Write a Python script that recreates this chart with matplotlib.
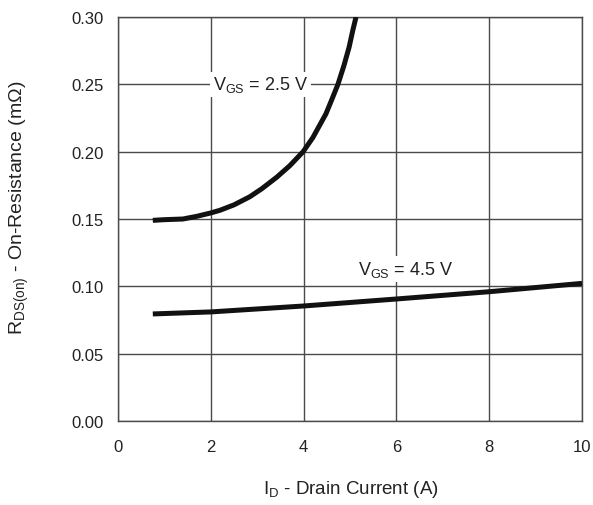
import matplotlib
matplotlib.use("Agg")
import matplotlib.pyplot as plt

plt.rcParams['font.family'] = ['Liberation Sans', 'DejaVu Sans']
plt.rcParams['mathtext.fontset'] = 'custom'
plt.rcParams['mathtext.rm'] = 'Liberation Sans'
plt.rcParams['mathtext.it'] = 'Liberation Sans'

# Drain current (A) and on-resistance for each gate voltage
id_25 = [0.75, 1.0, 1.4, 1.7, 2.0, 2.2, 2.5, 2.84, 3.1, 3.42, 3.7, 3.99, 4.2, 4.48, 4.6,
         4.74, 4.87, 4.98, 5.06, 5.13]
r_25 = [0.149, 0.1495, 0.150, 0.152, 0.1545, 0.1565, 0.1605, 0.1665, 0.1725, 0.181, 0.1895,
        0.200, 0.2105, 0.228, 0.238, 0.250, 0.264, 0.2775, 0.290, 0.300]

id_45 = [0.75, 2.0, 4.0, 6.0, 8.0, 10.0]
r_45 = [0.0795, 0.081, 0.0854, 0.0906, 0.096, 0.1022]

x_ticks = [0, 2, 4, 6, 8, 10]
y_ticks = [0.00, 0.05, 0.10, 0.15, 0.20, 0.25, 0.30]

fig = plt.figure(figsize=(5.93, 5.06), dpi=100)
ax = fig.add_axes([118 / 593, 1 - 422 / 506, (582 - 118) / 593, (422 - 18) / 506])

ax.set_xlim(0, 10)
ax.set_ylim(0, 0.30)
ax.set_xticks(x_ticks)
ax.set_yticks(y_ticks)
ax.set_xticklabels([str(t) for t in x_ticks])
ax.set_yticklabels([f"{t:.2f}" for t in y_ticks])
ax.tick_params(length=0, labelsize=12, colors='#222222')
ax.tick_params(axis='y', pad=10)
ax.tick_params(axis='x', pad=13)
ax.grid(True, color='#4a4a4a', lw=1.0)
ax.set_axisbelow(True)
for sp in ax.spines.values():
    sp.set_color('#4a4a4a')
    sp.set_linewidth(1.0)

ax.plot(id_25, r_25, color='#111111', lw=3.6, solid_capstyle='butt', solid_joinstyle='round', zorder=3)
ax.plot(id_45, r_45, color='#111111', lw=3.6, solid_capstyle='butt', solid_joinstyle='round', zorder=3)

box = dict(facecolor='white', edgecolor='none', pad=2)
ax.text(2.05, 0.250, r'V$_{\mathrm{GS}}$ = 2.5 V', fontsize=13, color='#222222',
        ha='left', va='center', bbox=box, zorder=2)
ax.text(5.17, 0.1129, r'V$_{\mathrm{GS}}$ = 4.5 V', fontsize=13, color='#222222',
        ha='left', va='center', bbox=box, zorder=2)

fig.text(351 / 593, 1 - 490 / 506, r'I$_{\mathrm{D}}$ - Drain Current (A)', fontsize=13.5,
         color='#222222', ha='center', va='center')
fig.text(19 / 593, 1 - 208 / 506, r'R$_{\mathrm{DS(on)}}$ - On-Resistance (m$\Omega$)',
         fontsize=14, color='#222222', ha='center', va='center', rotation=90)

fig.savefig('out.png', dpi=100)
